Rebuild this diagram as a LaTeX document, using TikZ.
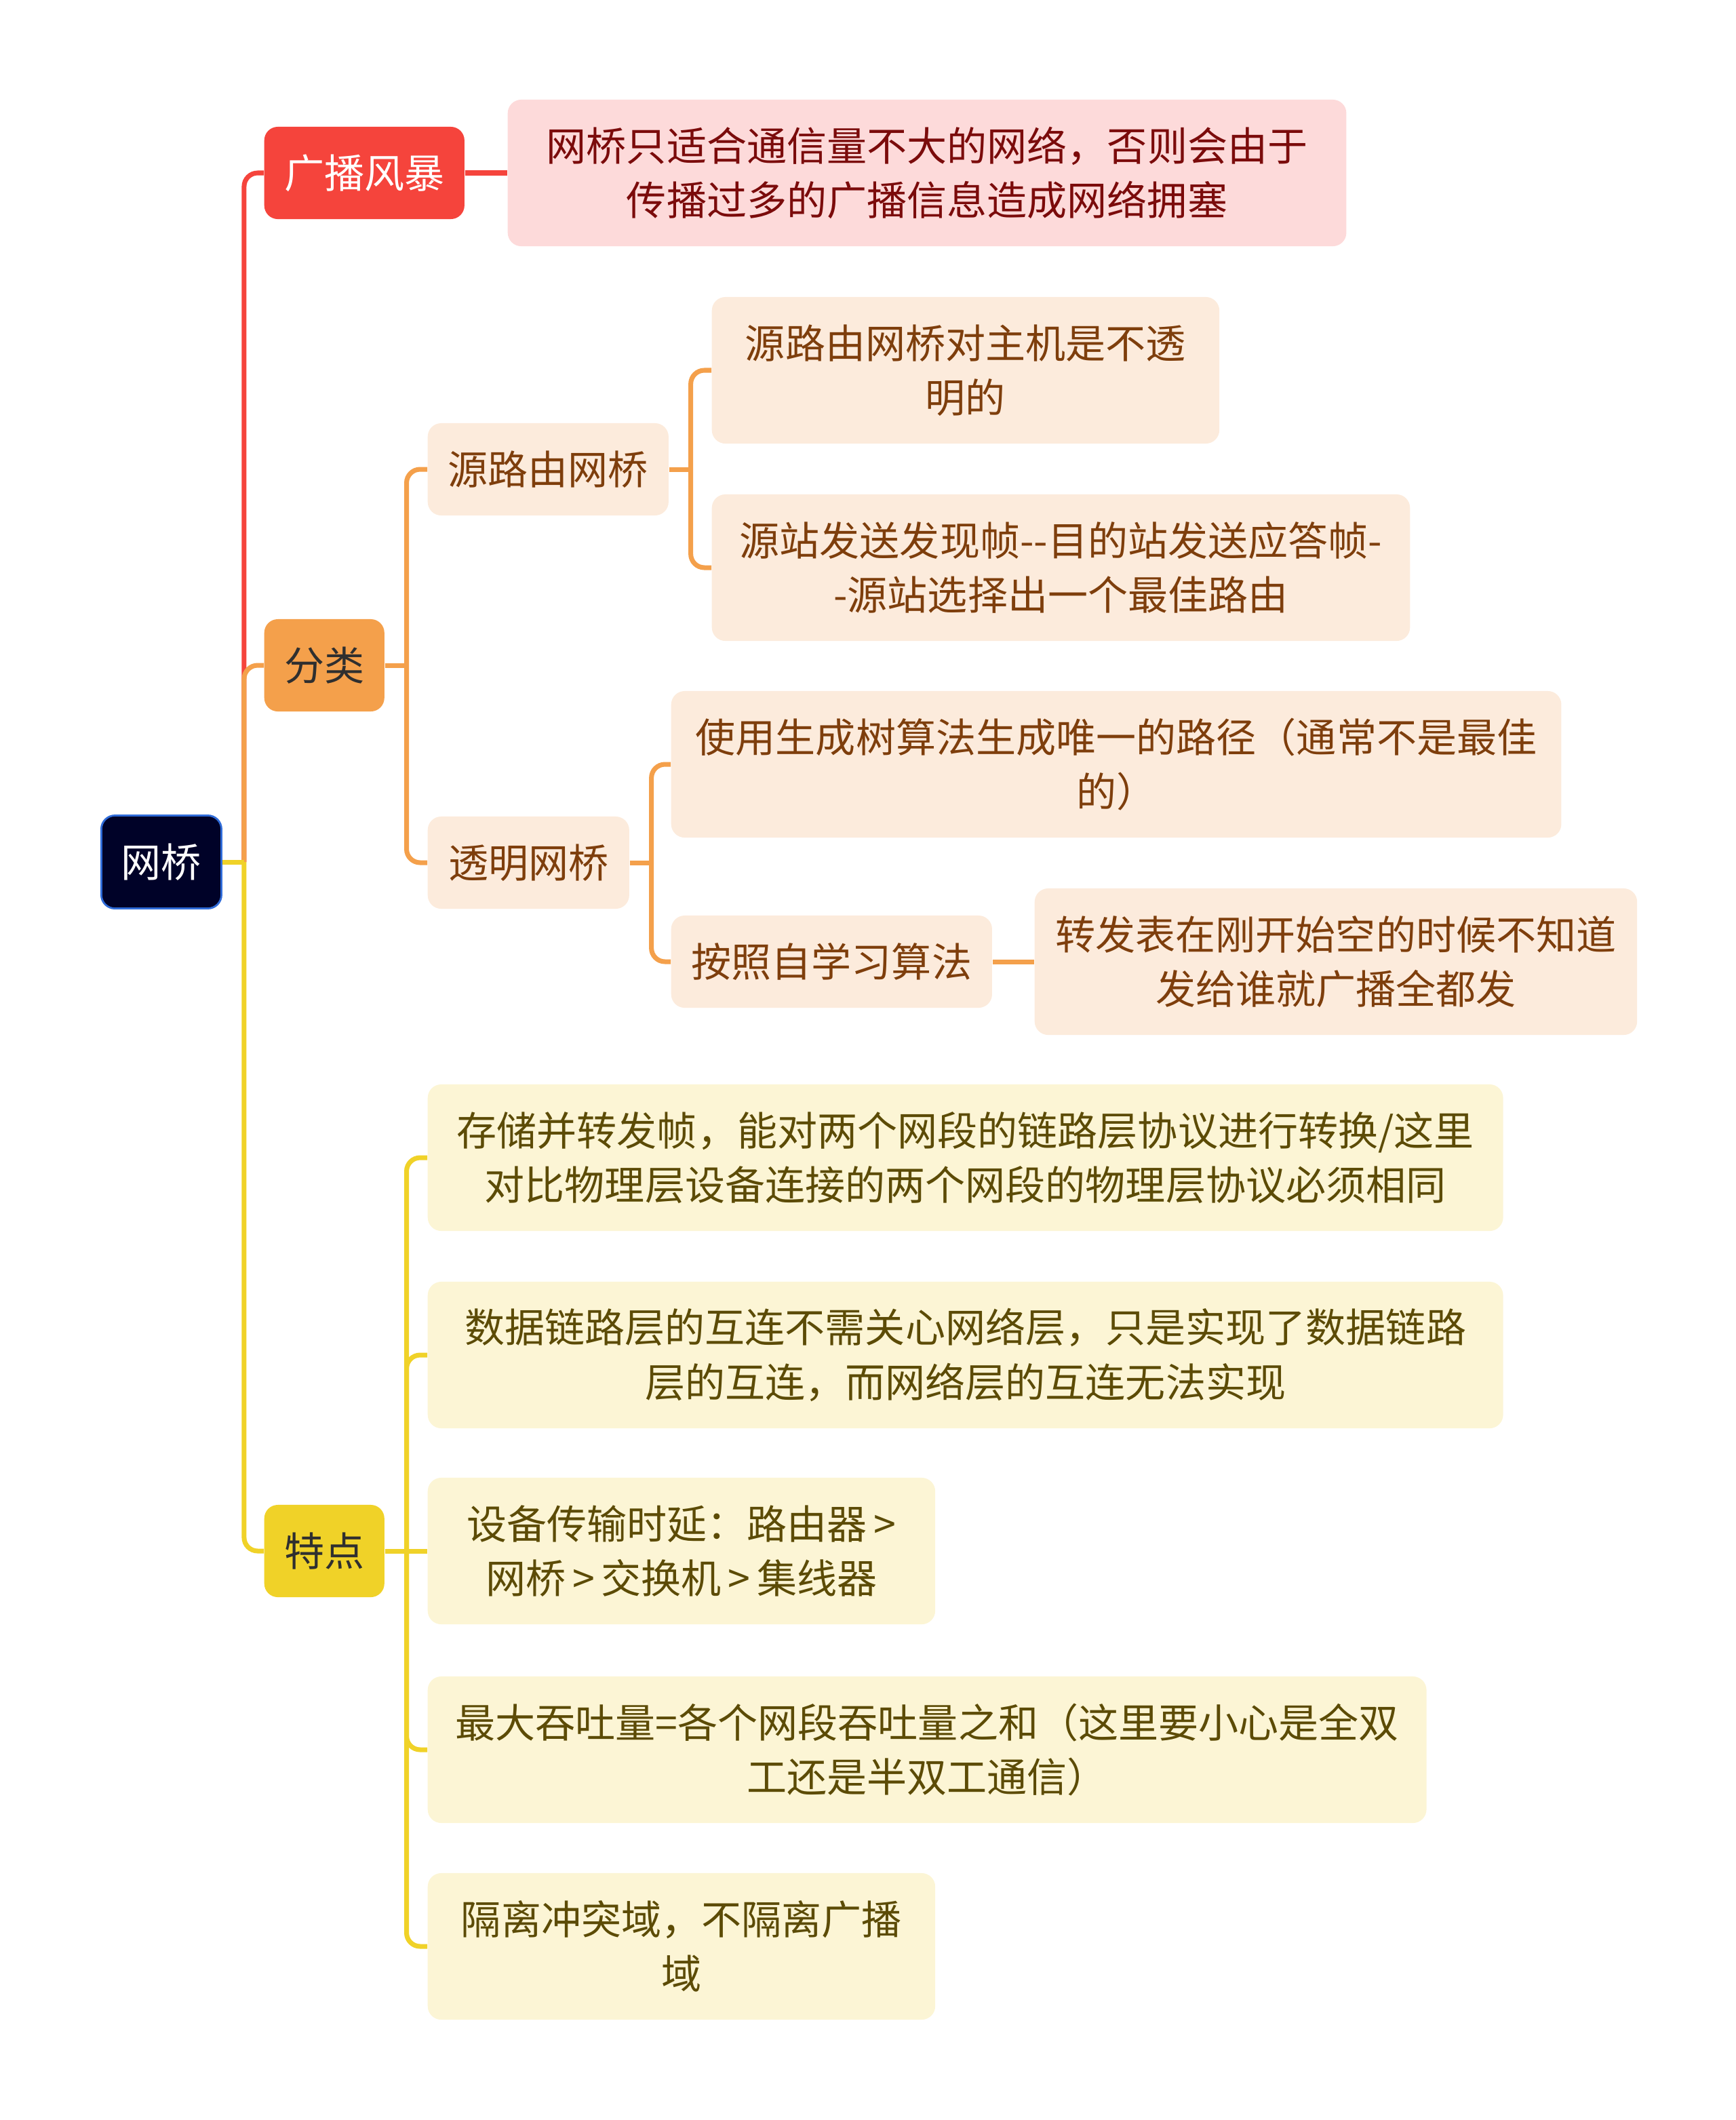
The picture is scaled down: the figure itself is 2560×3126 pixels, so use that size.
\documentclass[tikz,border=0pt]{standalone}
\usepackage{fontspec}
\usepackage{xcolor}
\usepackage{tikz}
\usetikzlibrary{positioning}
\newfontfamily\cjk{Noto Sans CJK SC}
\definecolor{brgnavy}{RGB}{0,2,40}
\definecolor{brgblue}{RGB}{47,107,216}
\definecolor{brgred}{RGB}{245,68,60}
\definecolor{brgorange}{RGB}{244,160,75}
\definecolor{brgyellow}{RGB}{240,210,40}
\definecolor{brgpink}{RGB}{253,218,218}
\definecolor{brgpeach}{RGB}{252,235,220}
\definecolor{brgcream}{RGB}{252,245,213}
\definecolor{brgdark}{RGB}{47,47,47}
\definecolor{brgredtxt}{RGB}{123,11,11}
\definecolor{brgbrown}{RGB}{126,62,12}
\definecolor{brgolive}{RGB}{92,75,6}

\begin{document}
\begin{tikzpicture}[x=0.01cm, y=-0.01cm,
    box/.style={rounded corners=0.2cm, inner sep=0pt, align=center, anchor=west,
        minimum height=1.36cm, font=\cjk\fontsize{16.8}{22.8}\selectfont},
    tall/.style={minimum height=2.16cm},
    peach/.style={box, fill=brgpeach, text=brgbrown},
    cream/.style={box, fill=brgcream, text=brgolive},
    link/.style={line width=2pt, rounded corners=0.2cm}]
    \useasboundingbox (0,0) rectangle (2560,3126);

    % Root and first level
    \node[box, fill=brgnavy, draw=brgblue, line width=0.8pt, text=white,
        minimum width=1.77cm, minimum height=1.37cm] (root) at (148,1271) {网桥};
    \node[box, fill=brgred, text=white, minimum width=2.95cm] (bcast) at (389,255) {广播风暴};
    \node[box, fill=brgorange, text=brgdark, minimum width=1.77cm] (cls) at (389,981) {分类};
    \node[box, fill=brgyellow, text=brgdark, minimum width=1.77cm] (feat) at (389,2287) {特点};

    % Broadcast storm
    \node[box, tall, fill=brgpink, text=brgredtxt, minimum width=12.36cm] (bcastd) at (748,255)
        {网桥只适合通信量不大的网络，否则会由于\\传播过多的广播信息造成网络拥塞};

    % Classes
    \node[peach, minimum width=3.55cm] (srb) at (630,692) {源路由网桥};
    \node[peach, minimum width=2.97cm] (tb) at (630,1272) {透明网桥};
    \node[peach, tall, minimum width=7.48cm] (srb1) at (1049,546) {源路由网桥对主机是不透\\明的};
    \node[peach, tall, minimum width=10.29cm] (srb2) at (1049,837)
        {源站发送发现帧-{}-目的站发送应答帧-\\-源站选择出一个最佳路由};
    \node[peach, tall, minimum width=13.12cm] (tb1) at (989,1127)
        {使用生成树算法生成唯一的路径（通常不是最佳\\的）};
    \node[peach, minimum width=4.73cm] (tb2) at (989,1418) {按照自学习算法};
    \node[peach, tall, minimum width=8.88cm] (tb2d) at (1525,1418)
        {转发表在刚开始空的时候不知道\\发给谁就广播全都发};

    % Features
    \node[cream, tall, minimum width=15.85cm] (f1) at (630,1707)
        {存储并转发帧，能对两个网段的链路层协议进行转换/这里\\对比物理层设备连接的两个网段的物理层协议必须相同};
    \node[cream, tall, minimum width=15.85cm] (f2) at (630,1998)
        {数据链路层的互连不需关心网络层，只是实现了数据链路\\层的互连，而网络层的互连无法实现};
    \node[cream, tall, minimum width=7.48cm] (f3) at (630,2287)
        {设备传输时延：路由器\,>\\网桥\,>\,交换机\,>\,集线器};
    \node[cream, tall, minimum width=14.72cm] (f4) at (630,2580)
        {最大吞吐量=各个网段吞吐量之和（这里要小心是全双\\工还是半双工通信）};
    \node[cream, tall, minimum width=7.48cm] (f5) at (630,2870)
        {隔离冲突域，不隔离广播\\域};

    % Connectors
    \coordinate (jroot) at ([xshift=0.32cm]root.east);
    \coordinate (jcls) at ([xshift=0.32cm]cls.east);
    \coordinate (jsrb) at ([xshift=0.32cm]srb.east);
    \coordinate (jtb) at ([xshift=0.32cm]tb.east);
    \coordinate (jfeat) at ([xshift=0.32cm]feat.east);

    \draw[link, brgred] (jroot) |- (bcast.west);
    \draw[link, brgred] (bcast.east) -- (bcastd.west);
    \draw[link, brgorange] (jroot) |- (cls.west);
    \draw[link, brgorange] (cls.east) -- (jcls);
    \foreach \c in {srb,tb}
        \draw[link, brgorange] (jcls) |- (\c.west);
    \draw[link, brgorange] (srb.east) -- (jsrb);
    \foreach \c in {srb1,srb2}
        \draw[link, brgorange] (jsrb) |- (\c.west);
    \draw[link, brgorange] (tb.east) -- (jtb);
    \foreach \c in {tb1,tb2}
        \draw[link, brgorange] (jtb) |- (\c.west);
    \draw[link, brgorange] (tb2.east) -- (tb2d.west);

    \draw[link, brgyellow] (root.east) -- (jroot);
    \draw[link, brgyellow] (jroot) |- (feat.west);
    \draw[link, brgyellow] (feat.east) -- (f3.west);
    \foreach \c in {f1,f2,f4,f5}
        \draw[link, brgyellow] (jfeat) |- (\c.west);
\end{tikzpicture}
\end{document}
